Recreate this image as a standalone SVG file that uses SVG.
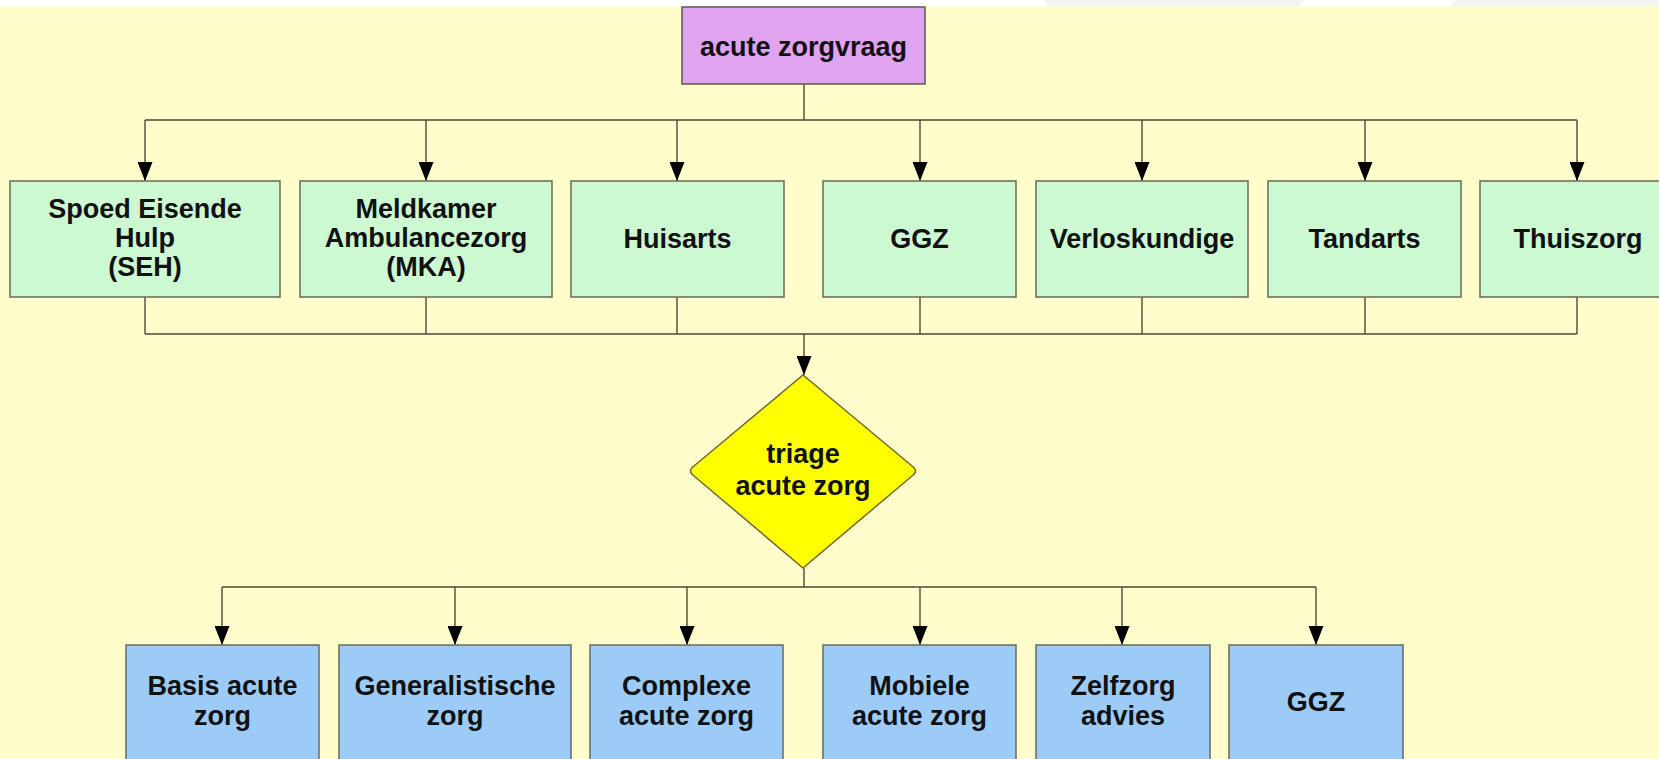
<svg xmlns="http://www.w3.org/2000/svg" width="1659" height="759" viewBox="0 0 1659 759">
  <defs>
    <marker id="arr" viewBox="0 0 19 15" markerWidth="19" markerHeight="15" refX="19" refY="7.5" orient="auto" markerUnits="userSpaceOnUse">
      <path d="M0,0 L19,7.5 L0,15 z" fill="#000"/>
    </marker>
    <style>
      .bg { fill: #FFFDCB; }
      .lbl { font-family: "Liberation Sans", Arial, sans-serif; font-weight: bold; font-size: 27px; fill: #111; text-anchor: middle; }
      .top { fill: #E0A3F0; stroke: #5a5a4a; stroke-width: 1.5; }
      .grn { fill: #CCF8D2; stroke: #6a6a55; stroke-width: 1.5; }
      .blu { fill: #9DCBF7; stroke: #6a6a60; stroke-width: 1.5; }
      .dia { fill: #FFFF00; stroke: #6f6a30; stroke-width: 1.5; }
      .ln { fill: none; stroke: #4a4a3a; stroke-width: 1.4; }
      .ar { fill: none; stroke: #4a4a3a; stroke-width: 1.4; marker-end: url(#arr); }
    </style>
  </defs>

  <rect class="bg" x="0" y="0" width="1659" height="759"/>
  <rect x="0" y="0" width="1659" height="6" fill="#FFFFFF"/>
  <polygon points="1044,0 1304,0 1298,6 1048,6" fill="#F3F3F3"/>
  <polygon points="1456,0 1659,0 1659,6 1450,6" fill="#F3F3F3"/>

  <g id="connectors">
    <path class="ln" d="M804,84 V120 M145,120 H1577"/>
    <path class="ar" d="M145,120 V181"/>
    <path class="ar" d="M426,120 V181"/>
    <path class="ar" d="M677,120 V181"/>
    <path class="ar" d="M920,120 V181"/>
    <path class="ar" d="M1142,120 V181"/>
    <path class="ar" d="M1365,120 V181"/>
    <path class="ar" d="M1577,120 V181"/>
    <path class="ln" d="M145,297 V334 M426,297 V334 M677,297 V334 M920,297 V334 M1142,297 V334 M1365,297 V334 M1577,297 V334 M145,334 H1577"/>
    <path class="ar" d="M804,334 V375"/>
    <path class="ln" d="M804,568 V587 M222,587 H1316"/>
    <path class="ar" d="M222,587 V645"/>
    <path class="ar" d="M455,587 V645"/>
    <path class="ar" d="M687,587 V645"/>
    <path class="ar" d="M920,587 V645"/>
    <path class="ar" d="M1122,587 V645"/>
    <path class="ar" d="M1316,587 V645"/>
  </g>

  <g id="acute-zorgvraag">
    <rect class="top" x="682" y="7" width="243" height="77"/>
    <text class="lbl" x="803.5" y="56">acute zorgvraag</text>
  </g>

  <g id="seh">
    <rect class="grn" x="10" y="181" width="270" height="116"/>
    <text class="lbl" x="145" y="218">Spoed Eisende<tspan x="145" y="247">Hulp</tspan><tspan x="145" y="276">(SEH)</tspan></text>
  </g>
  <g id="mka">
    <rect class="grn" x="300" y="181" width="252" height="116"/>
    <text class="lbl" x="426" y="218">Meldkamer<tspan x="426" y="247">Ambulancezorg</tspan><tspan x="426" y="276">(MKA)</tspan></text>
  </g>
  <g id="huisarts">
    <rect class="grn" x="571" y="181" width="213" height="116"/>
    <text class="lbl" x="677.5" y="248">Huisarts</text>
  </g>
  <g id="ggz-top">
    <rect class="grn" x="823" y="181" width="193" height="116"/>
    <text class="lbl" x="919.5" y="248">GGZ</text>
  </g>
  <g id="verloskundige">
    <rect class="grn" x="1036" y="181" width="212" height="116"/>
    <text class="lbl" x="1142" y="248">Verloskundige</text>
  </g>
  <g id="tandarts">
    <rect class="grn" x="1268" y="181" width="193" height="116"/>
    <text class="lbl" x="1364.5" y="248">Tandarts</text>
  </g>
  <g id="thuiszorg">
    <rect class="grn" x="1480" y="181" width="200" height="116"/>
    <text class="lbl" x="1578" y="248">Thuiszorg</text>
  </g>

  <g id="triage">
    <path class="dia" d="M803,375 L912,466 Q919,471 912,476 L803,568 L694,476 Q687,471 694,466 Z"/>
    <text class="lbl" x="803" y="463">triage<tspan x="803" y="495">acute zorg</tspan></text>
  </g>

  <g id="basis">
    <rect class="blu" x="126" y="645" width="193" height="130"/>
    <text class="lbl" x="222.5" y="695">Basis acute<tspan x="222.5" y="725">zorg</tspan></text>
  </g>
  <g id="generalistische">
    <rect class="blu" x="339" y="645" width="232" height="130"/>
    <text class="lbl" x="455" y="695">Generalistische<tspan x="455" y="725">zorg</tspan></text>
  </g>
  <g id="complexe">
    <rect class="blu" x="590" y="645" width="193" height="130"/>
    <text class="lbl" x="686.5" y="695">Complexe<tspan x="686.5" y="725">acute zorg</tspan></text>
  </g>
  <g id="mobiele">
    <rect class="blu" x="823" y="645" width="193" height="130"/>
    <text class="lbl" x="919.5" y="695">Mobiele<tspan x="919.5" y="725">acute zorg</tspan></text>
  </g>
  <g id="zelfzorg">
    <rect class="blu" x="1036" y="645" width="174" height="130"/>
    <text class="lbl" x="1123" y="695">Zelfzorg<tspan x="1123" y="725">advies</tspan></text>
  </g>
  <g id="ggz-bottom">
    <rect class="blu" x="1229" y="645" width="174" height="130"/>
    <text class="lbl" x="1316" y="711">GGZ</text>
  </g>
</svg>
